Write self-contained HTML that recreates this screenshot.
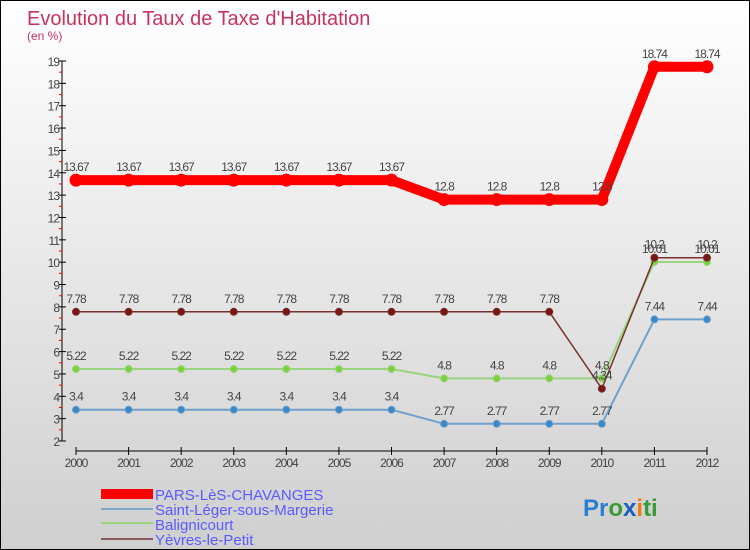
<!DOCTYPE html>
<html><head><meta charset="utf-8"><style>
body{margin:0}
#c{width:748px;height:548px;border:1px solid #000;background:linear-gradient(#fff,#cfcfcf);position:relative;overflow:hidden;font-family:"Liberation Sans","DejaVu Sans",sans-serif}
</style></head><body>
<div id="c">
<svg width="748" height="548" id="svg">
<text x="26" y="24" font-size="20" fill="#c8325f">Evolution du Taux de Taxe d'Habitation</text>
<text x="26" y="39" font-size="12" fill="#c8325f">(en %)</text>
<g id="axes"></g><g id="series"></g>
<g font-size="15" fill="#5a5aff">
<rect x="100" y="488" width="52" height="10" fill="#f00"/>
<text x="154" y="499">PARS-LèS-CHAVANGES</text>
<rect x="100" y="507" width="52" height="2" fill="#7fa7c7"/>
<text x="154" y="514">Saint-Léger-sous-Margerie</text>
<rect x="100" y="521" width="52" height="2" fill="#9bd47e"/>
<text x="154" y="529">Balignicourt</text>
<rect x="100" y="537" width="52" height="2" fill="#8a5a5a"/>
<text x="154" y="544">Yèvres-le-Petit</text>
</g>
<text x="582" y="515" font-size="24" font-weight="bold"><tspan fill="#2a7fd0">Pr</tspan><tspan fill="#3a9a3a">o</tspan><tspan fill="#1a5fc0">x</tspan><tspan fill="#f07a10">i</tspan><tspan fill="#3a9a3a">ti</tspan></text>
</svg>
</div>
<script>
const years=[2000,2001,2002,2003,2004,2005,2006,2007,2008,2009,2010,2011,2012];
const yTicks=[2,3,4,5,6,7,8,9,10,11,12,13,14,15,16,17,18,19];
const pars=[13.67,13.67,13.67,13.67,13.67,13.67,13.67,12.8,12.8,12.8,12.8,18.74,18.74];
const saint=[3.4,3.4,3.4,3.4,3.4,3.4,3.4,2.77,2.77,2.77,2.77,7.44,7.44];
const bali=[5.22,5.22,5.22,5.22,5.22,5.22,5.22,4.8,4.8,4.8,4.8,10.01,10.01];
const yev=[7.78,7.78,7.78,7.78,7.78,7.78,7.78,7.78,7.78,7.78,4.34,10.2,10.2];
const NS='http://www.w3.org/2000/svg';
const X=i=>75+i*(706-75)/12;
const Y=v=>440-(v-2)*(380/17);
function mk(t,a,p){const e=document.createElementNS(NS,t);for(const k in a)e.setAttribute(k,a[k]);p.appendChild(e);return e;}
const ax=document.getElementById('axes');
let l=mk('line',{x1:61,y1:Y(19),x2:61,y2:Y(2),stroke:'#000'},ax);


yTicks.forEach(v=>{
 mk('line',{x1:58,x2:65,y1:Y(v),y2:Y(v),stroke:'#000'},ax);
 if(v<19)mk('line',{x1:58,x2:61,y1:Y(v+0.5),y2:Y(v+0.5),stroke:'#f00'},ax);
 const t=mk('text',{x:58,y:Y(v)+5,'font-size':12,fill:'#444','text-anchor':'end','letter-spacing':'-1'},ax);
 t.textContent=v;
 
 
});
l=mk('line',{x1:X(0),y1:450,x2:X(12),y2:450,stroke:'#000'},ax);


years.forEach((y,i)=>{
 mk('line',{x1:X(i),x2:X(i),y1:446,y2:454,stroke:'#000'},ax);
 const t=mk('text',{x:X(i),y:466,'font-size':12,fill:'#444','text-anchor':'middle','letter-spacing':'-1'},ax);
 t.textContent=y;
 
 
});
const sg=document.getElementById('series');
function series(vals,name,color,w,r,fill){
 const g=mk('g',{},sg);
 
 
 const p=mk('polyline',{points:vals.map((v,i)=>X(i)+','+Y(v)).join(' '),fill:'none',stroke:color,'stroke-width':w,'stroke-linejoin':'round'},g);
 
 
 vals.forEach((v,i)=>{
  const c=mk('circle',{cx:X(i),cy:Y(v),r:r,fill:fill,stroke:color,'stroke-width':1},g);
  
  
  const t=mk('text',{x:X(i),y:Y(v)-9,'font-size':12,fill:'#444','text-anchor':'middle','letter-spacing':'-1'},g);
  t.textContent=v;
  
  
 });
}
series(saint,'saint-leger','#6fa0cc',2,3.5,'#3a88c8');
series(bali,'balignicourt','#9bd47e',2,3.5,'#7cd040');
series(yev,'yevres','#7a3030',1.5,3.5,'#7a1515');
series(pars,'pars','#f00',10,6,'#f00');
</script>
</body></html>
